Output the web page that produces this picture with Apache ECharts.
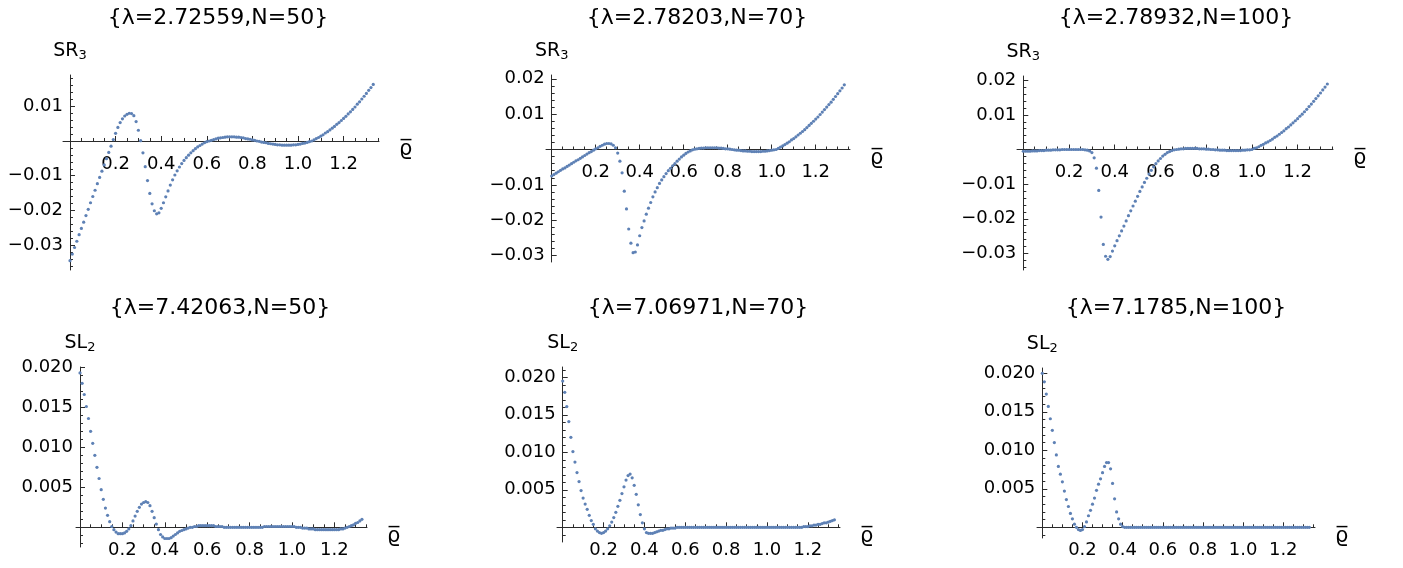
<!DOCTYPE html>
<html><head><meta charset="utf-8">
<script src="https://cdn.jsdelivr.net/npm/echarts@6/dist/echarts.min.js"></script>
<style>html,body{margin:0;padding:0;background:#fff}#c{width:1403px;height:568px}</style>
</head><body><div id="c"></div>
<script>
// ---------------- data ----------------
const X_STEP = 0.01; // x = index * X_STEP, from 0 to 1.33
const titles = ['{\u03bb=2.72559,N=50}', '{\u03bb=2.78203,N=70}', '{\u03bb=2.78932,N=100}',
                '{\u03bb=7.42063,N=50}', '{\u03bb=7.06971,N=70}', '{\u03bb=7.1785,N=100}'];
const yNameMain = ['SR', 'SR', 'SR', 'SL', 'SL', 'SL'];
const yNameSub = ['3', '3', '3', '2', '2', '2'];
const xName = '\u03f1\u0305';
const xTickValues = [0.2, 0.4, 0.6, 0.8, 1.0, 1.2];
const srTickValues = [-0.03, -0.02, -0.01, 0.01, 0.02];
const slTickValues = [0.005, 0.010, 0.015, 0.020];

const sr3_N50 = [
 -0.0345,-0.0326,-0.0307,-0.0289,-0.0270,-0.0252,-0.0234,-0.0215,-0.0197,-0.0178,
 -0.0160,-0.0142,-0.0123,-0.0105,-0.0087,-0.0069,-0.0051,-0.0033,-0.0015,0.0004,
 0.0022,0.0039,0.0053,0.0064,0.0072,0.0077,0.0080,0.0079,0.0073,0.0056,
 0.0031,0.0001,-0.0034,-0.0074,-0.0114,-0.0151,-0.0181,-0.0201,-0.0210,-0.0207,
 -0.0194,-0.0178,-0.0161,-0.0144,-0.0127,-0.0112,-0.0098,-0.0086,-0.0075,-0.0065,
 -0.0056,-0.0048,-0.0041,-0.0034,-0.0028,-0.0022,-0.0017,-0.0013,-0.0009,-0.0005,
 -0.0002,0.0000,0.0002,0.0004,0.0006,0.0008,0.0009,0.0010,0.0011,0.0012,
 0.0012,0.0012,0.0012,0.0011,0.0011,0.0010,0.0009,0.0007,0.0006,0.0005,
 0.0003,0.0002,0.0000,-0.0001,-0.0003,-0.0004,-0.0005,-0.0007,-0.0008,-0.0009,
 -0.0010,-0.0011,-0.0011,-0.0012,-0.0012,-0.0012,-0.0012,-0.0012,-0.0011,-0.0011,
 -0.0010,-0.0009,-0.0007,-0.0006,-0.0004,-0.0002,0.0000,0.0003,0.0007,0.0010,
 0.0014,0.0018,0.0023,0.0027,0.0032,0.0037,0.0042,0.0048,0.0053,0.0059,
 0.0065,0.0071,0.0078,0.0084,0.0091,0.0098,0.0106,0.0113,0.0121,0.0129,
 0.0137,0.0146,0.0154,0.0163];

const sr3_N70 = [
 -0.0075,-0.0071,-0.0067,-0.0063,-0.0059,-0.0055,-0.0052,-0.0048,-0.0044,-0.0040,
 -0.0036,-0.0032,-0.0029,-0.0025,-0.0021,-0.0017,-0.0013,-0.0009,-0.0006,-0.0002,
 0.0002,0.0005,0.0009,0.0012,0.0015,0.0017,0.0017,0.0016,0.0012,0.0005,
 -0.0010,-0.0033,-0.0066,-0.0118,-0.0168,-0.0225,-0.0265,-0.0292,-0.0290,-0.0270,
 -0.0244,-0.0221,-0.0202,-0.0183,-0.0166,-0.0150,-0.0134,-0.0120,-0.0108,-0.0096,
 -0.0086,-0.0077,-0.0068,-0.0060,-0.0053,-0.0046,-0.0040,-0.0033,-0.0027,-0.0021,
 -0.0016,-0.0011,-0.0007,-0.0004,-0.0001,0.0001,0.0002,0.0003,0.0004,0.0004,
 0.0005,0.0005,0.0005,0.0005,0.0005,0.0005,0.0004,0.0004,0.0003,0.0002,
 0.0002,0.0001,0.0000,-0.0001,-0.0002,-0.0002,-0.0003,-0.0004,-0.0004,-0.0005,
 -0.0005,-0.0006,-0.0006,-0.0006,-0.0006,-0.0006,-0.0005,-0.0005,-0.0004,-0.0003,
 -0.0002,-0.0001,0.0000,0.0003,0.0007,0.0010,0.0014,0.0018,0.0022,0.0027,
 0.0031,0.0036,0.0041,0.0046,0.0051,0.0056,0.0062,0.0068,0.0074,0.0080,
 0.0086,0.0092,0.0099,0.0106,0.0113,0.0120,0.0127,0.0134,0.0142,0.0150,
 0.0158,0.0166,0.0174,0.0183];

const sr3_N100 = [
 -0.0005,-0.0005,-0.0005,-0.0005,-0.0004,-0.0004,-0.0004,-0.0003,-0.0003,-0.0003,
 -0.0002,-0.0002,-0.0002,-0.0001,-0.0001,-0.0001,-0.0001,0.0000,0.0000,0.0000,
 0.0000,0.0000,0.0000,0.0000,0.0000,0.0000,0.0000,-0.0001,-0.0002,-0.0004,
 -0.0009,-0.0024,-0.0054,-0.0118,-0.0195,-0.0274,-0.0308,-0.0317,-0.0309,-0.0293,
 -0.0278,-0.0263,-0.0249,-0.0235,-0.0221,-0.0206,-0.0191,-0.0177,-0.0163,-0.0149,
 -0.0135,-0.0121,-0.0108,-0.0095,-0.0083,-0.0071,-0.0060,-0.0050,-0.0041,-0.0033,
 -0.0026,-0.0019,-0.0014,-0.0009,-0.0006,-0.0003,-0.0001,0.0000,0.0001,0.0002,
 0.0002,0.0003,0.0003,0.0003,0.0003,0.0003,0.0003,0.0002,0.0002,0.0002,
 0.0001,0.0001,0.0000,0.0000,-0.0001,-0.0001,-0.0002,-0.0002,-0.0002,-0.0003,
 -0.0003,-0.0003,-0.0003,-0.0003,-0.0003,-0.0003,-0.0002,-0.0002,-0.0001,-0.0001,
 0.0000,0.0003,0.0005,0.0008,0.0012,0.0015,0.0019,0.0022,0.0026,0.0030,
 0.0035,0.0039,0.0044,0.0049,0.0054,0.0060,0.0065,0.0071,0.0077,0.0083,
 0.0089,0.0096,0.0102,0.0109,0.0116,0.0124,0.0131,0.0139,0.0147,0.0155,
 0.0163,0.0172,0.0180,0.0189];

const sl2_N50 = [
 0.0193,0.0180,0.0166,0.0151,0.0136,0.0120,0.0105,0.0090,0.0075,0.0061,
 0.0047,0.0035,0.0024,0.0015,0.0007,0.0001,-0.0003,-0.0006,-0.0008,-0.0008,
 -0.0008,-0.0007,-0.0005,-0.0002,0.0002,0.0008,0.0014,0.0020,0.0025,0.0029,
 0.0031,0.0032,0.0031,0.0027,0.0020,0.0012,0.0004,-0.0003,-0.0009,-0.0012,
 -0.0014,-0.0014,-0.0014,-0.0013,-0.0011,-0.0009,-0.0007,-0.0005,-0.0004,-0.0003,
 -0.0002,-0.0001,0.0000,0.0000,0.0001,0.0001,0.0002,0.0002,0.0002,0.0002,
 0.0002,0.0002,0.0002,0.0002,0.0001,0.0001,0.0001,0.0001,0.0000,0.0000,
 0.0000,0.0000,0.0000,0.0000,0.0000,0.0000,0.0000,0.0000,0.0000,0.0000,
 0.0000,0.0000,0.0000,0.0000,0.0000,0.0000,0.0000,0.0001,0.0001,0.0001,
 0.0001,0.0001,0.0001,0.0001,0.0001,0.0001,0.0001,0.0001,0.0001,0.0001,
 0.0001,0.0001,0.0000,0.0000,0.0000,-0.0001,-0.0001,-0.0001,-0.0002,-0.0002,
 -0.0002,-0.0003,-0.0003,-0.0003,-0.0003,-0.0003,-0.0003,-0.0003,-0.0003,-0.0003,
 -0.0003,-0.0003,-0.0003,-0.0002,-0.0002,-0.0001,0.0000,0.0001,0.0002,0.0003,
 0.0005,0.0006,0.0008,0.0010];

const sl2_N70 = [
 0.0195,0.0180,0.0161,0.0141,0.0120,0.0101,0.0087,0.0073,0.0061,0.0049,
 0.0039,0.0031,0.0024,0.0016,0.0009,0.0004,-0.0002,-0.0005,-0.0007,-0.0008,
 -0.0007,-0.0005,-0.0002,0.0002,0.0007,0.0013,0.0020,0.0028,0.0036,0.0045,
 0.0054,0.0063,0.0069,0.0071,0.0066,0.0056,0.0044,0.0030,0.0017,0.0006,
 -0.0002,-0.0007,-0.0008,-0.0008,-0.0008,-0.0007,-0.0006,-0.0005,-0.0004,-0.0004,
 -0.0003,-0.0002,-0.0002,-0.0001,-0.0001,-0.0001,0.0000,0.0000,0.0000,0.0000,
 0,0,0,0,0,0,0,0,0,0,
 0,0,0,0,0,0,0,0,0,0,
 0,0,0,0,0,0,0,0,0,0,
 0,0,0,0,0,0,0,0,0,0,
 0,0,0,0,0,0,0,0,0,0,
 0,0,0,0,0,0,0,0,0.0001,0.0001,
 0.0001,0.0002,0.0002,0.0003,0.0003,0.0004,0.0004,0.0005,0.0006,0.0006,
 0.0007,0.0008,0.0009,0.0010];

const sl2_N100 = [
 0.0200,0.0189,0.0173,0.0157,0.0141,0.0126,0.0110,0.0094,0.0079,0.0069,
 0.0059,0.0047,0.0036,0.0027,0.0018,0.0011,0.0004,0.0000,-0.0003,-0.0004,
 -0.0003,0.0001,0.0007,0.0015,0.0022,0.0030,0.0038,0.0048,0.0056,0.0063,
 0.0071,0.0079,0.0084,0.0084,0.0076,0.0057,0.0037,0.0020,0.0011,0.0004,
 0.0001,0,0,0,0,0,0,0,0,0,
 0,0,0,0,0,0,0,0,0,0,
 0,0,0,0,0,0,0,0,0,0,
 0,0,0,0,0,0,0,0,0,0,
 0,0,0,0,0,0,0,0,0,0,
 0,0,0,0,0,0,0,0,0,0,
 0,0,0,0,0,0,0,0,0,0,
 0,0,0,0,0,0,0,0,0,0,
 0,0,0,0,0,0,0,0,0,0,
 0,0,0,0];

const seriesValues = [sr3_N50, sr3_N70, sr3_N100, sl2_N50, sl2_N70, sl2_N100];

// ---------------- layout (pixels) ----------------
const layout = [
  {g:[63, 75, 316, 195],   x:[-0.0307, 1.3553], y:[-0.03718, 0.01902], tx:218,  ty:7},
  {g:[546, 75, 304, 187],  x:[-0.0259, 1.3559], y:[-0.03183, 0.02108], tx:697,  ty:7},
  {g:[1017, 76, 316, 194], x:[-0.0276, 1.3548], y:[-0.03477, 0.02121], tx:1176, ty:7},
  {g:[76, 367, 291, 180],  x:[-0.0189, 1.3538], y:[-0.00246, 0.02004], tx:220,  ty:297},
  {g:[557, 367, 283, 175], x:[-0.0279, 1.3573], y:[-0.00196, 0.02137], tx:698,  ty:297},
  {g:[1037, 368, 278, 170],x:[-0.0264, 1.3581], y:[-0.00139, 0.02069], tx:1176, ty:297}
];

const FONT = '"DejaVu Sans", Verdana, sans-serif';
const AXIS_COLOR = '#2b2b2b';
const DOT_COLOR = '#5E81B5';
const r6 = v => Math.round(v * 1e6) / 1e6;
const fmt = (v, d) => (v < 0 ? '\u2212' : '') + Math.abs(v).toFixed(d);

function minorValues(lo, hi, step, every) {
  const out = [];
  for (let k = Math.ceil(lo / step); k <= Math.floor(hi / step); k++) {
    if (k === 0 || k % every === 0) continue;
    out.push(r6(k * step));
  }
  return out;
}

const option = {animation:false, backgroundColor:'#fff', title:[], grid:[], xAxis:[], yAxis:[], series:[]};

layout.forEach((p, i) => {
  const isSR = i < 3;
  const [L, T, W, H] = p.g;
  // pixel position of the zero lines inside the grid -> axis offsets (axes cross at the origin)
  const px0 = L + (0 - p.x[0]) / (p.x[1] - p.x[0]) * W;
  const py0 = T + (p.y[1] - 0) / (p.y[1] - p.y[0]) * H;
  const xOff = py0 - (T + H);      // negative: move the bottom axis up to y = 0
  const yOff = -(px0 - L);         // negative: move the left axis right to x = 0

  option.title.push({
    text: titles[i], left: p.tx, top: p.ty, textAlign: 'center', padding: 0,
    textStyle: {fontFamily: FONT, fontSize: 22, fontWeight: 'normal', color: '#000'}
  });
  option.grid.push({left: L, top: T, width: W, height: H, containLabel: false});

  const xMajor = xTickValues.filter(v => v >= p.x[0] && v <= p.x[1]);
  const xMinor = minorValues(0.0001, p.x[1], 0.05, 4).filter(v => v > 0);
  const yTicks = (isSR ? srTickValues : slTickValues).filter(v => v >= p.y[0] && v <= p.y[1]);
  const yMinor = isSR ? minorValues(p.y[0], p.y[1], 0.002, 5) : minorValues(p.y[0], p.y[1], 0.001, 5);
  const yDec = isSR ? 2 : 3;

  option.xAxis.push({
    type: 'value', gridIndex: i, min: p.x[0], max: p.x[1], position: 'bottom', offset: xOff,
    axisLine: {show: true, onZero: false, lineStyle: {color: AXIS_COLOR, width: 1}},
    axisTick: {show: true, inside: true, length: 5, customValues: xMajor, lineStyle: {color: AXIS_COLOR, width: 1}},
    axisLabel: {show: true, customValues: xMajor, margin: 14, formatter: v => fmt(v, 1),
                fontFamily: FONT, fontSize: 18, color: '#000'},
    splitLine: {show: false},
    // leading blank line pushes the symbol a little below the axis line, as in the reference
    name: '\n' + xName, nameLocation: 'end', nameGap: 20,
    nameTextStyle: {fontFamily: FONT, fontSize: 21, lineHeight: 18, color: '#000'}
  });
  option.xAxis.push({
    type: 'value', gridIndex: i, min: p.x[0], max: p.x[1], position: 'bottom', offset: xOff,
    axisLine: {show: false, onZero: false},
    axisTick: {show: true, inside: true, length: 3, customValues: xMinor, lineStyle: {color: AXIS_COLOR, width: 1}},
    axisLabel: {show: false}, splitLine: {show: false}
  });
  option.yAxis.push({
    type: 'value', gridIndex: i, min: p.y[0], max: p.y[1], position: 'left', offset: yOff,
    axisLine: {show: true, onZero: false, lineStyle: {color: AXIS_COLOR, width: 1}},
    axisTick: {show: true, inside: true, length: 5, customValues: yTicks, lineStyle: {color: AXIS_COLOR, width: 1}},
    axisLabel: {show: true, customValues: yTicks, margin: 7, formatter: v => fmt(v, yDec),
                fontFamily: FONT, fontSize: 18, color: '#000'},
    splitLine: {show: false},
    name: '{a|' + yNameMain[i] + '}{b|' + yNameSub[i] + '}', nameLocation: 'end', nameGap: 13,
    nameTextStyle: {rich: {
      a: {fontFamily: FONT, fontSize: 19, color: '#000'},
      b: {fontFamily: FONT, fontSize: 13, color: '#000', padding: [9, 0, 0, 0]}
    }}
  });
  option.yAxis.push({
    type: 'value', gridIndex: i, min: p.y[0], max: p.y[1], position: 'left', offset: yOff,
    axisLine: {show: false, onZero: false},
    axisTick: {show: true, inside: true, length: 3, customValues: yMinor, lineStyle: {color: AXIS_COLOR, width: 1}},
    axisLabel: {show: false}, splitLine: {show: false}
  });
  option.series.push({
    type: 'scatter', xAxisIndex: 2 * i, yAxisIndex: 2 * i, silent: true,
    symbol: 'circle', symbolSize: 3.2, itemStyle: {color: DOT_COLOR, opacity: 1},
    data: seriesValues[i].map((y, k) => [r6(k * X_STEP), y])
  });
});

const chart = echarts.init(document.getElementById('c'), null, {renderer: 'canvas'});
chart.setOption(option);
</script>
</body></html>
